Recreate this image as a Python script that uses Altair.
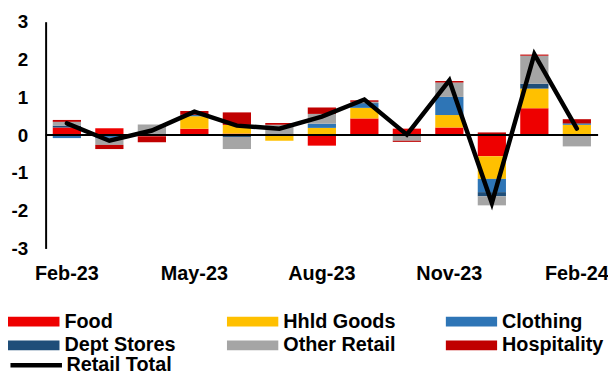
import altair as alt
import pandas as pd

months = ["Feb-23", "Mar-23", "Apr-23", "May-23", "Jun-23", "Jul-23", "Aug-23",
          "Sep-23", "Oct-23", "Nov-23", "Dec-23", "Jan-24", "Feb-24"]
tick_months = ["Feb-23", "May-23", "Aug-23", "Nov-23", "Feb-24"]
y_ticks = [-3, -2, -1, 0, 1, 2, 3]

series = ["Food", "Hhld Goods", "Clothing", "Dept Stores", "Other Retail", "Hospitality"]
colors = ["#EE0000", "#FFC000", "#2E75B6", "#1F4E79", "#A5A5A5", "#C00000"]

food = [0.20, 0.18, -0.04, 0.17, 0.04, 0.00, -0.28, 0.44, 0.17, 0.20, -0.56, 0.71, 0.00]
hhld = [0.00, 0.00, 0.00, 0.33, 0.23, -0.15, 0.19, 0.28, 0.00, 0.33, -0.60, 0.52, 0.27]
clothing = [-0.08, -0.07, 0.00, 0.04, 0.00, 0.00, 0.11, 0.11, 0.00, 0.48, -0.35, 0.00, 0.02]
dept = [0.05, -0.02, 0.00, 0.00, -0.05, 0.02, 0.00, 0.02, -0.02, 0.00, -0.11, 0.13, 0.02]
other = [0.10, -0.17, 0.28, 0.00, -0.32, 0.25, 0.26, 0.03, -0.13, 0.38, -0.24, 0.74, -0.30]
hosp = [0.05, -0.11, -0.15, 0.10, 0.33, 0.05, 0.17, 0.04, -0.03, 0.04, 0.07, 0.03, 0.11]
total = [0.31, -0.15, 0.12, 0.62, 0.25, 0.17, 0.49, 0.94, 0.01, 1.45, -1.80, 2.14, 0.17]

FONT = "Liberation Sans"

rows = []
for j, (s, vals) in enumerate(zip(series, [food, hhld, clothing, dept, other, hosp])):
    for i, m in enumerate(months):
        rows.append({"month": m, "series": s, "ord": j, "value": vals[i]})
bars_df = pd.DataFrame(rows)
line_df = pd.DataFrame({"month": months, "total": total, "name": ["Retail Total"] * len(months)})
zero_df = pd.DataFrame({"z": [0]})

x_scale = alt.Scale(paddingInner=0.336, paddingOuter=0.168)
x_axis = alt.Axis(values=tick_months, title=None, domain=False, ticks=False, labelAngle=0,
                  labelPadding=15, labelFontSize=20, labelFontWeight="bold", labelFont=FONT,
                  labelColor="black", grid=False, labelOverlap=False, labelBound=False)
y_scale = alt.Scale(domain=[-3, 3], nice=False, zero=False)
y_axis = alt.Axis(values=y_ticks, title=None, grid=False, ticks=False,
                  domainColor="black", domainWidth=2, labelPadding=18, labelFontSize=19,
                  labelFontWeight="bold", labelFont=FONT, labelColor="black",
                  labelOverlap=False, labelExpr="'' + datum.value")

bars = alt.Chart(bars_df).mark_bar(opacity=1).encode(
    x=alt.X("month:N", sort=months, scale=x_scale, axis=x_axis),
    y=alt.Y("value:Q", stack="zero", scale=y_scale, axis=y_axis),
    color=alt.Color("series:N", scale=alt.Scale(domain=series, range=colors),
                    legend=alt.Legend(title=None, orient="none", legendX=-38, legendY=294,
                                      columns=3, direction="horizontal", gridAlign="all",
                                      columnPadding=50, rowPadding=4, clipHeight=18,
                                      symbolType="M-1,-0.19H1V0.19H-1Z", symbolSize=2704,
                                      symbolStrokeWidth=0, symbolOpacity=1, labelOffset=5,
                                      labelFontSize=20, labelFont=FONT, labelFontWeight="bold",
                                      labelColor="black", labelLimit=300, padding=0)),
    order=alt.Order("ord:Q", sort="ascending"),
)

zero = alt.Chart(zero_df).mark_rule(color="black", strokeWidth=2).encode(
    y=alt.Y("z:Q", scale=y_scale, axis=y_axis)
)

line = alt.Chart(line_df).mark_line(strokeWidth=4.5, strokeCap="round").encode(
    x=alt.X("month:N", sort=months, scale=x_scale, axis=x_axis),
    y=alt.Y("total:Q", scale=y_scale, axis=y_axis),
    stroke=alt.Stroke("name:N", scale=alt.Scale(range=["black"]),
                      legend=alt.Legend(title=None, orient="none", legendX=-38, legendY=338,
                                        clipHeight=18, symbolType="stroke", symbolSize=2704,
                                        symbolStrokeWidth=4.5, symbolStrokeColor="black",
                                        labelOffset=2, labelFontSize=20, labelFont=FONT,
                                        labelFontWeight="bold", labelColor="black",
                                        labelLimit=300, padding=0)),
)

chart = alt.layer(bars, zero, line).properties(
    width=558, height=229,
    padding={"left": 38, "top": 12, "right": 10, "bottom": 127},
    autosize=alt.AutoSizeParams(type="none"),
).configure_view(stroke=None).configure_axis(labelOverlap=False)

chart.save("out.html", embed_options={"renderer": "svg", "actions": False})
